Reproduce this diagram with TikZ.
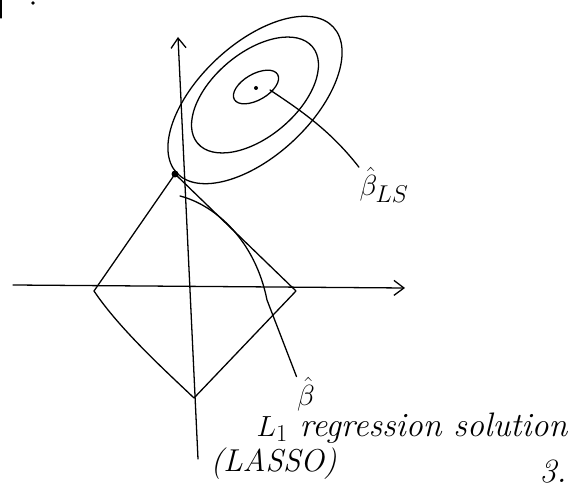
\documentclass[tikz,border=0pt]{standalone}
\usepackage{amsmath,amssymb}
\usepackage{tikz}
\usetikzlibrary{arrows.meta,positioning,calc}
\newcommand{\bhat}{\hat{\beta}}

\begin{document}
\begin{tikzpicture}[x=0.03cm,y=-0.03cm,>={Straight Barb[length=3mm,width=4.5mm]},
  line width=1.1pt,line cap=round,line join=round,
  lbl/.style={font=\Huge,inner sep=0pt},
  txt/.style={font=\fontsize{29}{32}\selectfont\itshape,inner sep=0pt}]
  \useasboundingbox (0,0) rectangle (580,488);
  % axes
  \coordinate (xs) at (13,285);
  \coordinate (xe) at (405,288);
  \coordinate (ys) at (198,459);
  \coordinate (ye) at (178,37);
  \draw[->] (xs) -- (xe);
  \draw[->] (ys) -- (ye);
  % L1 ball
  \coordinate (top) at (175,174);
  \coordinate (lft) at (94,291);
  \coordinate (bot) at (194,398);
  \coordinate (rgt) at (296,291);
  \draw (top) -- (lft) .. controls (120,330) and (170,375) .. (bot) -- (rgt) -- cycle;
  % contours of the LS loss
  \coordinate (ctr) at (255,100);
  \draw[rotate around={43:(ctr)}] (ctr) ellipse [x radius=107,y radius=56];
  \draw[rotate around={40:(255,95)}] (255,95) ellipse [x radius=75,y radius=42];
  \draw[rotate around={30:(256,87)}] (256,87) ellipse [x radius=25,y radius=13];
  \fill (256,88) circle (2);
  \fill (top) circle (3.5);
  % labels
  \node[lbl] (bls) at (384,185) {$\bhat_{LS}$};
  \node[lbl] (bl) at (306,394) {$\bhat$};
  \draw (270,90) .. controls (300,110) and (330,130) .. (bls.north west);
  \draw (180,196) .. controls (215,205) and (255,240) .. (267,300) -- (bl.north west);
  \node[txt,anchor=west] (sol) at (256,428) {$L_1$ regression solution};
  \node[txt,anchor=west,font=\fontsize{27}{30}\selectfont\itshape] (lasso) at (210,464) {(LASSO)};
  \node[txt] (pg) at (553,472) {3.};
  % page marks
  \draw (1,0) -- (1,18);
  \fill (33,3) circle (1.8);
\end{tikzpicture}
\end{document}
